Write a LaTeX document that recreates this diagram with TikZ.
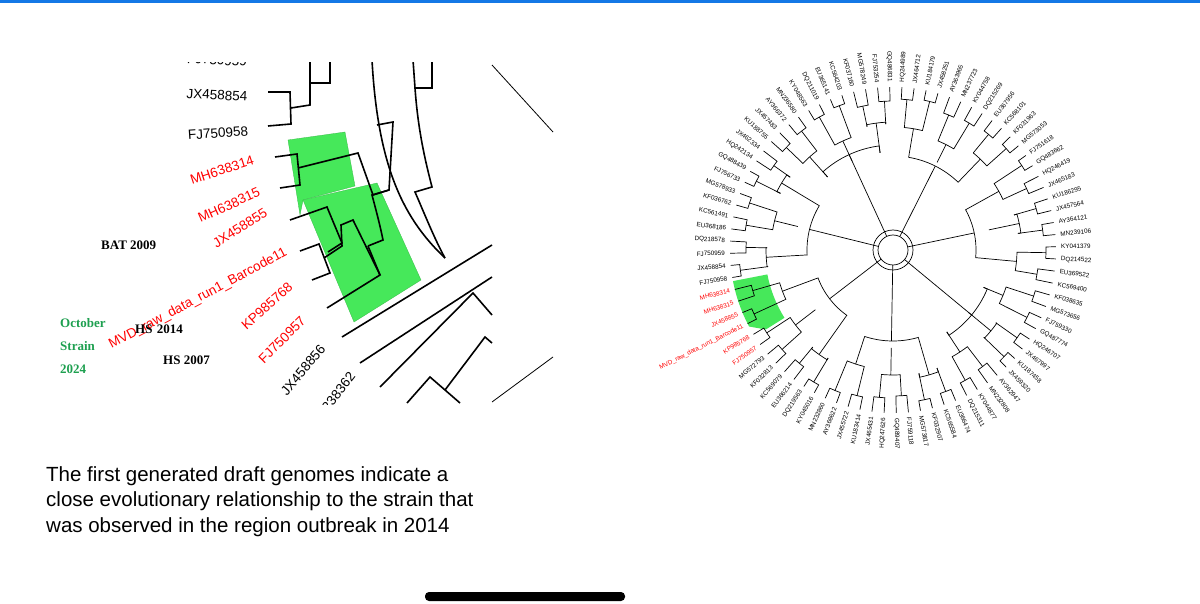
\documentclass[tikz,border=0pt]{standalone}
\usepackage{fontspec}
\setmainfont{Liberation Serif}
\newfontfamily\arialf{Liberation Sans}
\begin{document}
\begin{tikzpicture}[x=1pt,y=-1pt,
  br/.style={line width=1.6pt,line join=miter},
  lab/.style={font=\arialf\fontsize{13.5}{14}\selectfont,inner sep=0pt},
  rlab/.style={lab,text=red},
  ann/.style={font=\fontsize{13}{13}\selectfont\bfseries,inner sep=0pt},
  tl/.style={line width=0.7pt},
  leaf/.style={font=\arialf\fontsize{6.3}{6.3}\selectfont,inner sep=0pt}]
\definecolor{gfill}{RGB}{70,232,90}
\definecolor{octg}{RGB}{30,160,80}
\definecolor{topblue}{RGB}{20,120,230}
\useasboundingbox (0,0) rectangle (1200,604);
\fill[white] (0,0) rectangle (1200,604);
\fill[topblue] (0,0) rectangle (1200,3);
% ---------- left panel ----------
\begin{scope}
\clip (40,63) rectangle (555,404);
\fill[gfill,draw=gfill!80!black,line width=0.3pt] (288,140) -- (345,132) -- (355,186) -- (303,200) -- (300,215) -- cycle;
\fill[gfill,draw=gfill!80!black,line width=0.3pt] (303,200) -- (377,183) -- (421,280) -- (354,322) -- cycle;
% upper clades
\draw[br] (268,92) -- (290,92) -- (291,124) -- (268,126);
\draw[br] (291,108) -- (310,105) -- (310,60);
\draw[br] (310,83) -- (330,83) -- (330,60);
\draw[br] (372,60) .. controls (378,170) and (405,220) .. (445,258);
\draw[br] (413,60) -- (415,88) -- (432,88) -- (432,60);
\draw[br] (415,88) .. controls (418,130) and (425,160) .. (432,187) -- (415,192) .. controls (425,215) and (435,240) .. (445,258);
\draw[br] (377,125) -- (393,122) -- (389,190) -- (372,195) .. controls (376,210) and (380,225) .. (383,240) -- (368,246);
% green clade 1
\draw[br] (275,157) -- (297,154) -- (300,185) -- (280,188);
\draw[br] (298,168) -- (358,153) -- (373,195) -- (389,190);
% green clade 2
\draw[br] (290,220) -- (327,207) -- (342,243) -- (328,252) ;
\draw[br] (300,251) -- (319,244) -- (330,273) -- (312,280);
\draw[br] (324,258) -- (342,246) -- (341,225) -- (353,220) -- (380,275) -- (327,308);
\draw[br] (380,275) -- (368,246);
% lower lines
\draw[br] (342,337) -- (492,245);
\draw[br] (360,363) -- (492,277);
\draw[br] (380,387) -- (473,293) -- (492,315);
\draw[br] (407,403) -- (430,377) -- (460,403);
\draw[br] (445,390) -- (485,337) -- (492,343);
\draw[line width=0.8pt] (492,65) -- (553,132);
\draw[line width=0.8pt] (492,402) -- (553,357);
% labels
\node[lab,rotate=-3] (l0) at (217,60) {FJ750959};
\node[lab,rotate=-3] (l1) at (217,95) {JX458854};
\node[lab,rotate=4] (l2) at (218,133) {FJ750958};
\node[rlab,rotate=18] (l3) at (222,170) {MH638314};
\node[rlab,rotate=24] (l4) at (229,205) {MH638315};
\node[rlab,rotate=32] (l5) at (240,228) {JX458855};
\node[rlab,rotate=28] (l6) at (198,299) {MVD\_raw\_data\_run1\_Barcode11};
\node[rlab,rotate=42] (l7) at (267,306) {KP985768};
\node[rlab,rotate=45] (l8) at (282,340) {FJ750957};
\node[lab,rotate=50] (l9) at (303,370) {JX458856};
\node[lab,rotate=52] (l10) at (332,400) {MN238362};
\end{scope}
\node[ann,anchor=west] (bat) at (101,245) {BAT 2009};
\node[ann,anchor=west,text=octg] (o1) at (60,323) {October};
\node[ann,anchor=west,text=octg] (o2) at (60,346) {Strain};
\node[ann,anchor=west,text=octg] (o3) at (60,369) {2024};
\node[ann,anchor=west] (hs14) at (135,329) {HS\,\,2014};
\node[ann,anchor=west] (hs07) at (163,360) {HS 2007};
% caption
\node[font=\arialf\fontsize{20.5}{25.5}\selectfont,anchor=north west,align=left,inner sep=0pt] (cap) at (46,466)
 {The first generated draft genomes indicate a\\close evolutionary relationship to the strain that\\was observed in the region outbreak in 2014};
% ---------- right panel ----------
\begin{scope}[shift={(893,250)},y=1pt]
\pgfmathsetmacro\s{360/84}
\fill[gfill] (191:163) arc[start angle=191,end angle=208,radius=163] -- (212:150) -- (212:128) arc[start angle=212,end angle=191,radius=128] -- cycle;
\foreach \p in {0,...,41}{
  \pgfmathsetmacro\aa{194+2*\p*\s}
  \pgfmathsetmacro\ab{\aa+\s}
  \pgfmathsetmacro\am{\aa+0.5*\s}
  \pgfmathsetmacro\rj{146+mod(\p*7,9)}
  \draw[tl] (\aa:163) -- (\aa:\rj) arc[start angle=\aa,end angle=\ab,radius=\rj] -- (\ab:163);
  \draw[tl] (\am:\rj) -- (\am:126);
}
\foreach \q in {0,...,20}{
  \pgfmathsetmacro\ca{194+(4*\q+0.5)*\s}
  \pgfmathsetmacro\cb{194+(4*\q+2.5)*\s}
  \pgfmathsetmacro\cm{194+(4*\q+1.5)*\s}
  \pgfmathsetmacro\rq{118+mod(\q*5,13)}
  \draw[tl] (\ca:126) -- (\ca:\rq) arc[start angle=\ca,end angle=\cb,radius=\rq] -- (\cb:126);
  \draw[tl] (\cm:\rq) -- (\cm:98);
}
\foreach \g in {0,...,6}{
  \pgfmathsetmacro\ga{194+(12*\g+1.5)*\s}
  \pgfmathsetmacro\gb{194+(12*\g+9.5)*\s}
  \pgfmathsetmacro\gm{194+(12*\g+5.5)*\s}
  \pgfmathsetmacro\rg{80+mod(\g*11,30)}
  \draw[tl] (\ga:98) -- (\ga:\rg) arc[start angle=\ga,end angle=\gb,radius=\rg] -- (\gb:98);
  \draw[tl] (\gm:\rg) -- (\gm:15);
}
\draw[tl] (0,0) circle[radius=15];
\draw[tl] (0,0) circle[radius=20];
\pgfmathsetseed{7}
\foreach \i in {0,...,83}{
  \pgfmathsetmacro\th{194+\i*\s}
  \pgfmathtruncatemacro\left{(\th<270)||(\th>450)?1:0}
  \pgfmathparse{{"JX45","FJ75","DQ21","KU18","MG57","KY04","JX46","KF03","MN23","HQ24","KC56","AY36","GQ48","EU36"}[mod(\i*3,14)]}
  \let\pf\pgfmathresult
  \pgfmathrandominteger{\rn}{1000}{9999}
  \def\nm{\pf\rn}
  \ifnum\i=0 \def\nm{MH638314}\fi
  \ifnum\i=1 \def\nm{MH638315}\fi
  \ifnum\i=2 \def\nm{JX458855}\fi
  \ifnum\i=3 \def\nm{MVD\_raw\_data\_run1\_Barcode11}\fi
  \ifnum\i=4 \def\nm{KP985768}\fi
  \ifnum\i=5 \def\nm{FJ750957}\fi
  \ifnum\i=83 \def\nm{FJ750958}\fi
  \ifnum\i=82 \def\nm{JX458854}\fi
  \ifnum\i=81 \def\nm{FJ750959}\fi
  \ifnum\i<6 \def\lc{red}\else\def\lc{black}\fi
  \ifnum\left=1
    \node[leaf,text=\lc,anchor=east,rotate=\th-180] (r\i) at (\th:168) {\nm};
  \else
    \node[leaf,text=\lc,anchor=west,rotate=\th] (r\i) at (\th:168) {\nm};
  \fi
}
\end{scope}
% home bar
\fill[black,rounded corners=4pt] (425,592) rectangle (625,601);
\end{tikzpicture}
\end{document}
